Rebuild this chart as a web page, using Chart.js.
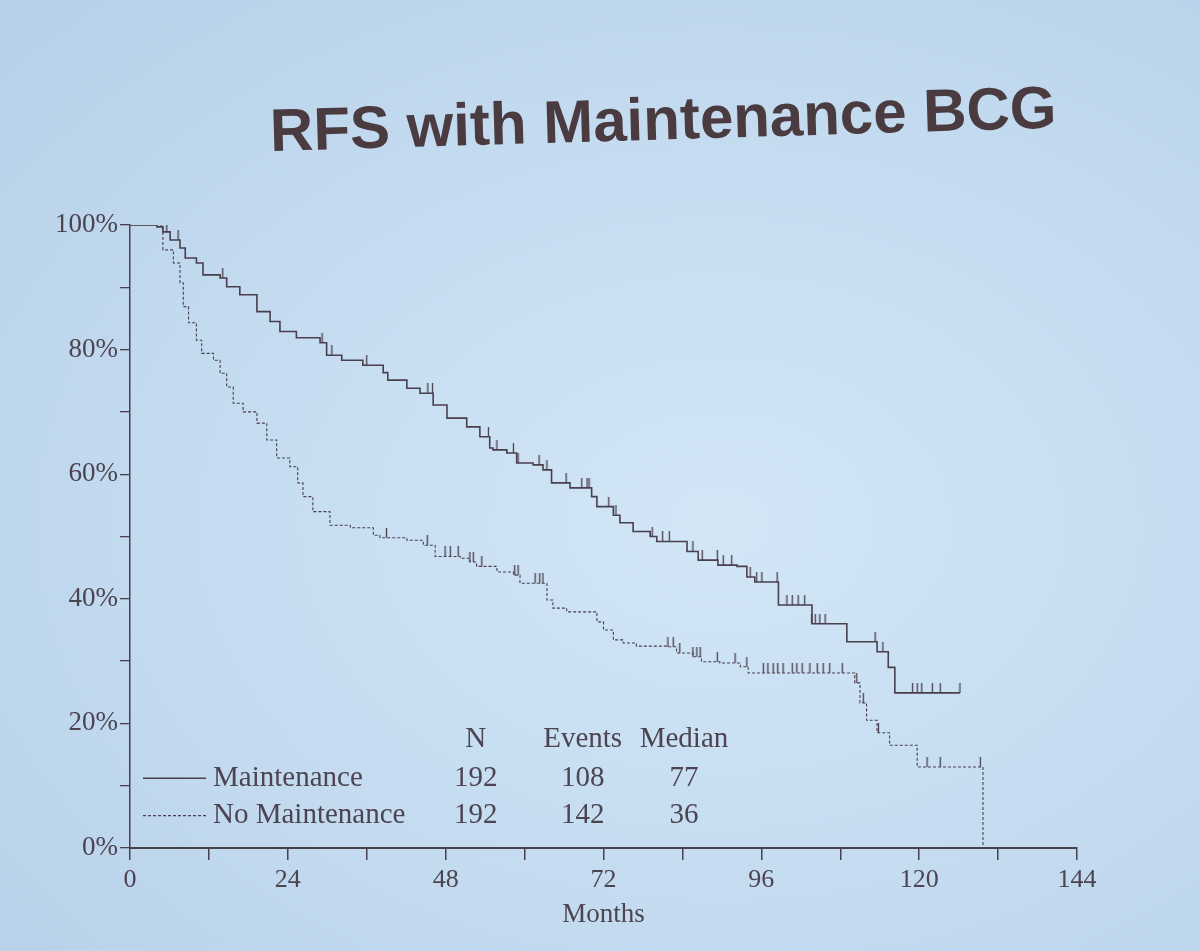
<!DOCTYPE html>
<html lang="en">
  <head>
    <meta charset="UTF-8" />
    <title>RFS with Maintenance BCG</title>
    <style>
      html, body { margin: 0; padding: 0; }
      body {
        width: 1200px;
        height: 951px;
        overflow: hidden;
        position: relative;
        background: radial-gradient(ellipse at 60% 55%, #d2e6f6 0%, #c6ddf1 45%, #b7d0e8 100%);
      }
      #title {
        position: absolute;
        left: 270px;
        top: 96px;
        font-family: "Liberation Sans", Arial, sans-serif;
        font-weight: bold;
        font-size: 60px;
        color: #4a3b40;
        transform: rotate(-1.7deg);
        transform-origin: left center;
        white-space: nowrap;
      }
      #km { position: absolute; left: 0; top: 0; }
    </style>
  </head>
  <body>
    <div id="title">RFS with Maintenance BCG</div>
    <canvas id="km" width="1200" height="951"></canvas>

    <script src="https://cdn.jsdelivr.net/npm/chart.js"></script>
    <script>
      // Kaplan-Meier curves (months, % recurrence-free)
      const maintMonths = [0, 2.8, 4.1, 5, 6.1, 7.6, 8.4, 10.1, 11.1, 13.7, 14.7, 16.7, 19.3, 21.3, 22.8, 25.3, 28.9, 29.9,
        32.2, 35.4, 38.5, 39.2, 42.1, 44.1, 46.1, 48.2, 51.2, 53.2, 54.7, 55.2, 57.3, 58.8, 61.3, 62.8, 64.1, 66.9, 70.2,
        71, 73.5, 74.5, 76.5, 79.1, 80.1, 84.7, 86.4, 89.4, 92.3, 93.8, 95, 98.6, 103.7, 109, 113.6, 115.3, 116.3, 126.2];
      const maintRfs = [100, 100, 99.7, 98.9, 97.6, 96.3, 94.7, 93.9, 92, 91.5, 90.1, 88.8, 86.1, 84.5, 82.9, 81.9, 81.1, 79.1,
        78.3, 77.5, 76.3, 75.1, 73.8, 73, 71.1, 69, 67.6, 66, 64.2, 63.9, 63.4, 61.8, 61.5, 60.7, 58.6, 57.8, 56.4,
        54.8, 53.4, 52.2, 50.8, 50, 49.2, 47.6, 46.2, 45.4, 45.2, 43.5, 42.7, 39, 36, 33.1, 31.5, 29, 24.9, 24.9];

      const noMaintMonths = [0, 3, 5, 6.6, 7.6, 8.1, 8.9, 10.1, 10.9, 12.7, 13.7, 14.7, 15.7, 17.2, 19.3, 20.8, 22.3, 24.3,
        25.5, 26.3, 27.8, 30.4, 33.5, 37, 38, 42.1, 44.6, 46.4, 50.2, 51.7, 52.7, 55.8, 58.3, 59.3, 63.4, 64.3, 66.4, 71,
        72, 73.5, 75, 77, 81.6, 83.1, 85.6, 86.9, 89.7, 92.8, 94, 110.2, 111, 112, 113.6, 115.5, 119.7, 129.7];
      const noMaintRfs = [100, 100, 96, 93.9, 90.7, 86.9, 84.3, 81.5, 79.4, 78.3, 76.2, 74, 71.4, 70, 68.2, 65.5, 62.6, 61.2,
        58.6, 56.4, 54, 51.8, 51.4, 50.2, 49.8, 49.4, 48.6, 46.8, 46.5, 45.9, 45.2, 44.3, 43.8, 42.5, 39.8, 38.5, 37.9, 36.3,
        35, 33.4, 32.9, 32.4, 32.3, 31.3, 30.7, 29.9, 29.7, 29.1, 28.1, 26.5, 23.3, 20.5, 18.5, 16.5, 13, 0];

      // censored observations (months)
      const maintCensored = [5.6, 7.3, 14.1, 29.2, 30.7, 36, 45.3, 46, 54.5, 55.8, 58.3, 59, 62.2, 63.4, 66.3, 68.7, 69.5, 69.8,
        72.8, 73.9, 79.4, 81, 82, 85.6, 87, 89.3, 90.2, 91.5, 94.3, 95.3, 96.1, 98.4, 99.9, 100.7, 101.6, 102.6, 103.7, 104.2,
        104.9, 105.7, 113.3, 114.5, 119, 119.7, 120.4, 122, 123.2, 126.2];
      const noMaintCensored = [39, 45.2, 47.9, 48.7, 49.9, 51.7, 52.2, 53.5, 58.5, 59, 61.6, 62.3, 62.8, 81.8, 82.6, 83.6, 85.6,
        86.2, 86.7, 89.3, 92, 93.8, 96.3, 97, 97.8, 98.5, 99.3, 100.7, 101.4, 102.2, 103.4, 104.5, 105.4, 106.4, 108.3, 110.5,
        111.5, 113.8, 121.2, 123.2, 129.3];

      // summary table
      const groups = ["Maintenance", "No Maintenance"];
      const groupN = [192, 192];
      const groupEvents = [108, 142];
      const groupMedian = [77, 36];

      const ink = "#4a3f4c";
      const textInk = "#4d4452";

      function toPoints(xs, ys) {
        return xs.map((x, i) => ({ x: x, y: ys[i] }));
      }
      // value of a step curve at time t
      function rfsAt(xs, ys, t) {
        let v = ys[0];
        for (let i = 0; i < xs.length; i++) {
          if (xs[i] <= t) v = ys[i];
        }
        return v;
      }
      function censorPoints(times, xs, ys) {
        return times.map((t) => ({ x: t, y: rfsAt(xs, ys, t) }));
      }

      // small upward tick used for censor marks
      const tick = document.createElement("canvas");
      tick.width = 3;
      tick.height = 20;
      const tctx = tick.getContext("2d");
      tctx.strokeStyle = ink;
      tctx.lineWidth = 1.3;
      tctx.beginPath();
      tctx.moveTo(1.5, 0);
      tctx.lineTo(1.5, 10);
      tctx.stroke();

      const serif = "'Liberation Serif', 'Times New Roman', serif";

      const summaryTable = {
        id: "summaryTable",
        afterDatasetsDraw(chart) {
          const { ctx, chartArea: a } = chart;
          const w = a.right - a.left;
          const h = a.bottom - a.top;
          const colN = a.left + w * 0.365;
          const colEv = a.left + w * 0.478;
          const colMed = a.left + w * 0.585;
          const rowHead = a.top + h * 0.826;
          const rows = [a.top + h * 0.888, a.top + h * 0.948];
          ctx.save();
          ctx.fillStyle = textInk;
          ctx.font = "29px " + serif;
          ctx.textBaseline = "middle";
          ctx.textAlign = "center";
          ctx.fillText("N", colN, rowHead);
          ctx.fillText("Events", colEv, rowHead);
          ctx.fillText("Median", colMed, rowHead);
          groups.forEach((g, i) => {
            const y = rows[i];
            ctx.strokeStyle = ink;
            ctx.lineWidth = i === 0 ? 1.5 : 1.1;
            ctx.setLineDash(i === 0 ? [] : [3, 2]);
            ctx.beginPath();
            ctx.moveTo(a.left + 13, y);
            ctx.lineTo(a.left + 76, y);
            ctx.stroke();
            ctx.setLineDash([]);
            ctx.textAlign = "left";
            ctx.fillText(g, a.left + 83, y);
            ctx.textAlign = "center";
            ctx.fillText(String(groupN[i]), colN, y);
            ctx.fillText(String(groupEvents[i]), colEv, y);
            ctx.fillText(String(groupMedian[i]), colMed, y);
          });
          ctx.restore();
        },
      };

      new Chart(document.getElementById("km"), {
        type: "line",
        data: {
          datasets: [
            {
              label: groups[0],
              data: toPoints(maintMonths, maintRfs),
              stepped: true,
              borderColor: ink,
              borderWidth: 1.6,
              pointRadius: 0,
              fill: false,
            },
            {
              label: groups[1],
              data: toPoints(noMaintMonths, noMaintRfs),
              stepped: true,
              borderColor: ink,
              borderWidth: 1.1,
              borderDash: [3, 2],
              pointRadius: 0,
              fill: false,
            },
            {
              label: "censored 1",
              data: censorPoints(maintCensored, maintMonths, maintRfs),
              showLine: false,
              pointStyle: tick,
              pointRadius: 5,
            },
            {
              label: "censored 2",
              data: censorPoints(noMaintCensored, noMaintMonths, noMaintRfs),
              showLine: false,
              pointStyle: tick,
              pointRadius: 5,
            },
          ],
        },
        options: {
          responsive: false,
          animation: false,
          layout: { padding: { left: 30, top: 225, right: 123, bottom: 20 } },
          plugins: {
            legend: { display: false },
            tooltip: { enabled: false },
          },
          scales: {
            x: {
              type: "linear",
              min: 0,
              max: 144,
              afterFit(scale) { scale.height = 83; },
              border: { display: true, color: ink, width: 2 },
              grid: { display: true, drawOnChartArea: false, drawTicks: true, tickLength: 12, color: ink, lineWidth: 1.5 },
              ticks: {
                stepSize: 12,
                autoSkip: false,
                maxRotation: 0,
                padding: 5,
                color: textInk,
                font: { family: serif, size: 26 },
                callback: (v) => (v % 24 === 0 ? String(v) : ""),
              },
              title: {
                display: true,
                text: "Months",
                color: textInk,
                font: { family: serif, size: 27 },
                padding: { top: 0, bottom: 0 },
              },
            },
            y: {
              min: 0,
              max: 100,
              afterFit(scale) { scale.width = 100; },
              border: { display: true, color: ink, width: 1.5 },
              grid: { display: true, drawOnChartArea: false, drawTicks: true, tickLength: 10, color: ink, lineWidth: 1.3 },
              ticks: {
                stepSize: 10,
                autoSkip: false,
                padding: 2,
                color: textInk,
                font: { family: serif, size: 27 },
                callback: (v) => (v % 20 === 0 ? v + "%" : ""),
              },
            },
          },
        },
        plugins: [summaryTable],
      });
    </script>
  </body>
</html>
